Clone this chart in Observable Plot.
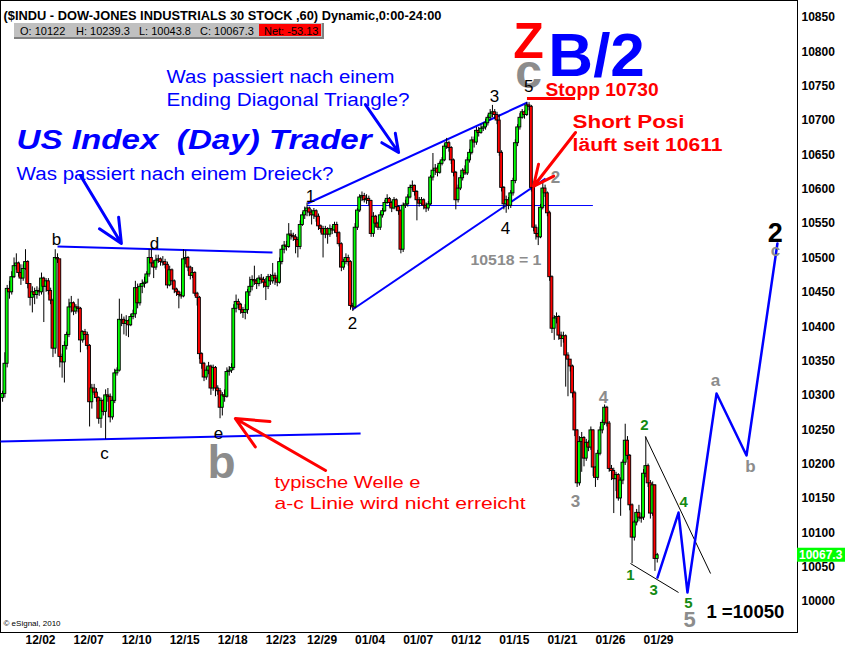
<!DOCTYPE html>
<html>
<head>
<meta charset="utf-8">
<script src="https://cdn.jsdelivr.net/npm/d3@7"></script>
<script src="https://cdn.jsdelivr.net/npm/@observablehq/plot@0.6"></script>
<style>
  html, body { margin: 0; padding: 0; background: #fff; }
  #chart { width: 845px; height: 652px; }
  svg text { white-space: pre; }
</style>
</head>
<body>
<div id="chart"></div>
<script>
// ---- Dow Jones Industrials, 60-minute bars, 30 Nov 2009 – 29 Jan 2010 ----
const days = ["11/30","12/01","12/02","12/03","12/04","12/07","12/08","12/09","12/10","12/11",
  "12/14","12/15","12/16","12/17","12/18","12/21","12/22","12/23","12/24","12/28","12/29","12/30","12/31",
  "01/04","01/05","01/06","01/07","01/08","01/11","01/12","01/13","01/14","01/15",
  "01/19","01/20","01/21","01/22","01/25","01/26","01/27","01/28","01/29"];
// hourly bars per session (first session only partly shown, 12/24 half day)
const barsPerDay = [3,7,7,7,7,7,7,7,7,7, 7,7,7,7,7,7,7,7,4,7,7,7,7, 7,7,7,7,7,7,7,7,7,7, 7,7,7,7,7,7,7,7,7];
const dateTicks = ["12/02","12/07","12/10","12/15","12/18","12/23","12/29","01/04","01/07","01/12","01/15","01/21","01/26","01/29"];
const priceTicks = [10000,10050,10100,10150,10200,10250,10300,10350,10400,10450,10500,10550,10600,10650,10700,10750,10800,10850];

const closes = [
  10302,10346,10455,10450,10472,10488,10492,10478,10470,10484,
  10494,10462,10442,10450,10446,10452,10450,10470,10458,10466,
  10452,10438,10368,10500,10498,10356,10348,10372,10388,10428,
  10434,10422,10428,10426,10380,10392,10388,10372,10290,10310,
  10304,10296,10266,10292,10276,10300,10298,10268,10292,10332,
  10336,10410,10410,10404,10408,10402,10414,10418,10456,10434,
  10458,10462,10464,10476,10500,10492,10486,10496,10498,10494,
  10494,10490,10460,10482,10466,10454,10450,10446,10444,10498,
  10500,10486,10474,10478,10448,10442,10360,10346,10326,10336,
  10342,10310,10340,10310,10306,10282,10300,10298,10334,10336,
  10340,10426,10436,10432,10424,10420,10424,10450,10458,10468,
  10466,10462,10470,10468,10464,10458,10472,10466,10474,10470,
  10464,10494,10512,10518,10516,10534,10532,10530,10526,10516,
  10548,10562,10568,10572,10566,10562,10568,10560,10546,10542,
  10534,10542,10534,10542,10540,10548,10536,10520,10486,10494,
  10500,10494,10430,10428,10544,10569,10588,10590,10584,10586,
  10583,10535,10560,10550,10544,10562,10568,10580,10586,10580,
  10572,10584,10574,10568,10512,10576,10578,10588,10602,10605,
  10596,10584,10579,10584,10576,10572,10578,10617,10627,10630,
  10624,10637,10642,10662,10667,10660,10642,10624,10584,10601,
  10616,10627,10623,10642,10653,10671,10668,10685,10682,10688,
  10690,10696,10704,10710,10712,10708,10700,10653,10602,10578,
  10584,10576,10594,10612,10667,10690,10704,10712,10708,10722,
  10720,10602,10544,10535,10530,10573,10601,10594,10565,10472,
  10397,10412,10414,10387,10382,10386,10358,10352,10342,10303,
  10249,10172,10232,10238,10208,10231,10224,10249,10195,10180,
  10215,10249,10260,10282,10259,10193,10190,10178,10184,10150,
  10176,10202,10234,10212,10140,10093,10115,10129,10122,10120.46,
  10186,10197,10172,10128,10169,10062,10067.33
];
const highs = [
  10306,10362,10460,10466,10480,10500,10506,10494,10490,10490,
  10512,10496,10462,10458,10456,10458,10456,10478,10472,10470,
  10470,10456,10440,10512,10506,10498,10360,10378,10392,10440,
  10444,10436,10432,10440,10428,10394,10396,10392,10374,10316,
  10316,10310,10298,10296,10294,10308,10310,10302,10298,10338,
  10340,10440,10418,10414,10416,10410,10418,10424,10466,10462,
  10462,10468,10472,10480,10512,10512,10496,10504,10504,10500,
  10502,10498,10494,10488,10484,10468,10456,10452,10450,10512,
  10510,10502,10488,10486,10480,10450,10444,10362,10348,10340,
  10348,10344,10344,10342,10314,10310,10304,10308,10340,10342,
  10346,10432,10446,10440,10434,10428,10432,10454,10472,10474,
  10488,10470,10474,10476,10472,10470,10476,10476,10492,10478,
  10474,10500,10518,10524,10524,10550,10540,10536,10534,10530,
  10554,10566,10574,10580,10574,10570,10572,10570,10564,10548,
  10546,10546,10544,10548,10546,10552,10552,10538,10522,10498,
  10506,10504,10496,10434,10550,10572,10592,10596,10594,10592,
  10590,10584,10566,10562,10552,10566,10572,10584,10592,10588,
  10582,10588,10586,10576,10570,10580,10584,10592,10606,10612,
  10606,10598,10588,10588,10586,10580,10582,10620,10652,10636,
  10634,10640,10646,10666,10674,10670,10662,10644,10626,10606,
  10620,10630,10634,10646,10658,10676,10676,10690,10690,10694,
  10696,10702,10708,10716,10722,10716,10712,10708,10656,10604,
  10590,10588,10598,10616,10672,10694,10710,10716,10714,10726,
  10726,10722,10604,10548,10544,10578,10612,10606,10596,10568,
  10474,10416,10420,10416,10392,10392,10388,10362,10352,10344,
  10306,10250,10240,10246,10240,10236,10234,10254,10250,10196,
  10220,10254,10264,10286,10284,10262,10198,10194,10188,10186,
  10180,10206,10258,10240,10214,10142,10118,10134,10140,10128,
  10192,10239.3,10200,10176,10174,10170,10070
];
const lows = [
  10290,10296,10340,10440,10446,10470,10482,10472,10460,10466,
  10482,10455,10430,10420,10432,10440,10444,10446,10406,10450,
  10446,10432,10355,10360,10492,10340,10325,10318,10366,10384,
  10420,10416,10418,10420,10362,10376,10380,10366,10254,10280,
  10300,10290,10258,10252,10270,10236,10290,10260,10264,10288,
  10328,10334,10400,10388,10386,10384,10400,10410,10412,10426,
  10430,10448,10456,10462,10472,10486,10470,10482,10492,10488,
  10488,10484,10455,10458,10460,10448,10444,10426,10440,10442,
  10490,10480,10468,10470,10444,10430,10352,10338,10320,10322,
  10330,10300,10306,10298,10300,10266,10270,10290,10296,10328,
  10332,10336,10420,10426,10418,10412,10410,10418,10444,10452,
  10460,10454,10458,10462,10456,10438,10454,10460,10462,10460,
  10458,10462,10490,10506,10510,10514,10526,10524,10506,10500,
  10512,10546,10556,10560,10560,10548,10556,10552,10540,10536,
  10500,10528,10520,10530,10534,10536,10530,10516,10480,10482,
  10490,10488,10424,10422,10426,10540,10566,10582,10580,10578,
  10576,10530,10530,10544,10540,10540,10558,10566,10578,10574,
  10566,10570,10568,10562,10506,10508,10572,10574,10586,10598,
  10590,10554,10574,10576,10570,10566,10568,10576,10612,10620,
  10618,10622,10634,10640,10658,10654,10636,10618,10570,10580,
  10598,10612,10620,10620,10638,10650,10660,10664,10676,10680,
  10684,10686,10692,10700,10704,10702,10694,10648,10596,10570,
  10565,10570,10572,10590,10608,10662,10686,10702,10702,10706,
  10714,10596,10538,10526,10518,10528,10570,10588,10560,10466,
  10390,10380,10404,10380,10370,10376,10312,10298,10334,10296,
  10240,10166,10168,10188,10196,10204,10218,10220,10182,10166,
  10176,10212,10244,10256,10254,10188,10176,10128,10160,10146,
  10124,10170,10198,10206,10132,10055,10088,10110,10116,10114,
  10118,10180,10166,10120,10124,10043.8,10056
];
// session opens that do not equal the prior bar's close
const sessionOpens = new Map([[0, 10296], [280, 10122]]);

// ---- Elliott wave annotations (bar index, price) ----
const blackLabels = [
  {i: 23.5, p: 10527, t: "b"}, {i: 66.4, p: 10521, t: "d"}, {i: 44.5, p: 10215, t: "c"}, {i: 94.3, p: 10244, t: "e"},
  {i: 134.5, p: 10589, t: "1"}, {i: 152.9, p: 10405, t: "2"}, {i: 214.9, p: 10735, t: "3"},
  {i: 219.7, p: 10543, t: "4"}
];
const greyLabels = [
  {i: 241.5, p: 10617, t: "2"}, {i: 262.5, p: 10297, t: "4"}, {i: 250.3, p: 10146, t: "3"},
  {i: 311.4, p: 10322, t: "a"}, {i: 326.7, p: 10197, t: "b"}, {i: 337.6, p: 10511, t: "c"}
];
const greenLabels = [
  {i: 274.3, p: 10038, t: "1"}, {i: 280.4, p: 10256, t: "2"}, {i: 284.4, p: 10016, t: "3"},
  {i: 297.5, p: 10144, t: "4"}, {i: 299.6, p: 9997, t: "5"}
];
const triangleLines = [
  {i1: 24, p1: 10516.7, i2: 117.9, p2: 10507.9},   // b – d
  {i1: -0.9, p1: 10232.9, i2: 156.4, p2: 10244.5}, // a – c
  {i1: 133.2, p1: 10579.3, i2: 229.3, p2: 10726.2}, // 1 – 3 – 5
  {i1: 152.9, p1: 10425, i2: 237.2, p2: 10615.6}    // 2 – 4
];
const waveOneLevel = {i1: 133.2, i2: 258.1, p: 10576.3};
const stopLevel = {i1: 229.3, i2: 250.3, p: 10732.1};
const wedgeLines = [
  {i1: 280.8, p1: 10240.2, i2: 309.3, p2: 10040.7},
  {i1: 274.3, p1: 10055.3, i2: 295.3, p2: 10013.1}
];
const projection = [
  {i: 286.1, p: 10034.9}, {i: 295.3, p: 10129.5}, {i: 299.2, p: 10013.1},
  {i: 311.9, p: 10302.7}, {i: 325.0, p: 10212.5}, {i: 338.5, p: 10521.0}
];
const blueArrows = [
  {i1: 34.0, p1: 10620.0, i2: 51.9, p2: 10521.0},
  {i1: 158.5, p1: 10723.3, i2: 173.0, p2: 10653.5}
];
const redArrows = [
  {i1: 250.3, p1: 10682.6, i2: 231.9, p2: 10604.0},
  {i1: 141.1, p1: 10190.7, i2: 101.7, p2: 10266.3}
];
const blueNotes = [
  {i: 71.6, p: 10762.6, t: "Was passiert nach einem"},
  {i: 71.6, p: 10729.2, t: "Ending Diagonal Triangle?"},
  {i: 6.1, p: 10621.5, t: "Was passiert nach einem Dreieck?"}
];
const redNotes = [
  {i: 118.8, p: 10173.2, t: "typische Welle e"},
  {i: 118.8, p: 10142.6, t: "a-c Linie wird nicht erreicht"}
];
const redBoldNotes = [
  {i: 237.2, p: 10743.7, t: "Stopp 10730"},
  {i: 249.0, p: 10697.1, t: "Short Posi"},
  {i: 249.0, p: 10663.7, t: "läuft seit 10611"}
];

// ---- build bars ----
const dayStart = new Map();
{
  let k = 0;
  days.forEach((d, j) => { dayStart.set(d, k); k += barsPerDay[j]; });
}
const bars = closes.map((c, i) => ({
  i,
  open: sessionOpens.has(i) ? sessionOpens.get(i) : closes[i - 1],
  high: highs[i], low: lows[i], close: c
}));
const lastDay = dayStart.get(days[days.length - 1]);
const dayBars = bars.slice(lastDay);
const dayO = dayBars[0].open;
const dayH = d3.max(dayBars, d => d.high);
const dayL = d3.min(dayBars, d => d.low);
const dayC = dayBars[dayBars.length - 1].close;
const dayNet = dayC - bars[lastDay - 1].close;

const font = "'Liberation Sans', Arial, sans-serif";
const xDomain = [-0.917, 347.27];
const yDomain = [9954.88, 10874.7];
const half = 0.62;

const chart = Plot.plot({
  width: 845, height: 652,
  marginLeft: 0, marginRight: 48, marginTop: 0, marginBottom: 20,
  x: {domain: xDomain, axis: null},
  y: {domain: yDomain, axis: null},
  style: {fontFamily: font, background: "#fff"},
  marks: [
    Plot.frame({stroke: "#000"}),
    // triangle and diagonal boundaries
    Plot.link(triangleLines, {x1: "i1", y1: "p1", x2: "i2", y2: "p2", stroke: "#0000ff", strokeWidth: 2}),
    Plot.ruleY([waveOneLevel], {y: "p", x1: "i1", x2: "i2", stroke: "#0000ff", strokeWidth: 1}),
    // candles
    Plot.ruleX(bars, {x: "i", y1: "low", y2: "high", stroke: "#000", strokeWidth: 1}),
    Plot.rect(bars, {
      x1: d => d.i - half, x2: d => d.i + half, y1: "open", y2: "close",
      fill: d => d.close >= d.open ? "#00ff00" : "#ff0000", stroke: "#000", strokeWidth: 0.9
    }),
    Plot.ruleY(bars.filter(d => Math.abs(d.close - d.open) < 1.5), {
      y: "close", x1: d => d.i - half, x2: d => d.i + half, stroke: "#000", strokeWidth: 1
    }),
    // stop level
    Plot.ruleY([stopLevel], {y: "p", x1: "i1", x2: "i2", stroke: "#ff0000", strokeWidth: 3}),
    // final wedge and projected path
    Plot.link(wedgeLines, {x1: "i1", y1: "p1", x2: "i2", y2: "p2", stroke: "#000", strokeWidth: 1}),
    Plot.line(projection, {x: "i", y: "p", stroke: "#0000ff", strokeWidth: 2.5}),
    // arrows
    Plot.arrow(blueArrows, {x1: "i1", y1: "p1", x2: "i2", y2: "p2", stroke: "#0000ff", strokeWidth: 3, headLength: 22, headAngle: 50}),
    Plot.arrow(redArrows, {x1: "i1", y1: "p1", x2: "i2", y2: "p2", stroke: "#ff0000", strokeWidth: 3, headLength: 22, headAngle: 50}),
    // price scale and dates
    Plot.text(priceTicks, {y: d => d, text: d => String(d), frameAnchor: "right", textAnchor: "start", dx: 4,
      fontSize: 12, fontWeight: "bold", fill: "#000"}),
    Plot.text(dateTicks, {x: d => dayStart.get(d), text: d => d, frameAnchor: "bottom", textAnchor: "start", dy: 11,
      fontSize: 12, fontWeight: "bold", fill: "#000"}),
    // wave labels
    Plot.text(blackLabels, {x: "i", y: "p", text: "t", fontSize: 17, fill: "#000"}),
    Plot.text(greyLabels, {x: "i", y: "p", text: "t", fontSize: 17, fontWeight: "bold", fill: "#8c8c8c"}),
    Plot.text(greenLabels, {x: "i", y: "p", text: "t", fontSize: 15, fontWeight: "bold", fill: "#138a13"}),
    Plot.text([{i: 300.1, p: 9973.8}], {x: "i", y: "p", text: () => "5", fontSize: 22, fontWeight: "bold", fill: "#8c8c8c"}),
    Plot.text([{i: 95.6, p: 10201}], {x: "i", y: "p", text: () => "b", fontSize: 46, fontWeight: "bold", fill: "#8c8c8c"}),
    Plot.text([{i: 337.6, p: 10535.6}], {x: "i", y: "p", text: () => "2", fontSize: 27, fontWeight: "bold", fill: "#000"}),
    Plot.text([{i: 219.9, p: 10496.3}], {x: "i", y: "p", text: () => "10518 = 1", fontSize: 15, fontWeight: "bold", fill: "#8c8c8c"}),
    Plot.text([{i: 324.5, p: 9984}], {x: "i", y: "p", text: () => "1 =10050", fontSize: 18, fontWeight: "bold", fill: "#000"}),
    // "Z B/2" marker with the wave c / 5 top
    Plot.text([{i: 229.8, p: 10770}], {x: "i", y: "p", text: () => "c", fontSize: 48, fontWeight: "bold", fill: "#8c8c8c"}),
    Plot.text([{i: 229.8, p: 10750}], {x: "i", y: "p", text: () => "5", fontSize: 17, fill: "#000"}),
    Plot.text([{i: 229.8, p: 10815}], {x: "i", y: "p", text: () => "Z", fontSize: 50, fontWeight: "bold", fill: "#ff0000"}),
    Plot.text([{i: 259.5, p: 10793}], {x: "i", y: "p", text: () => "B/2", fontSize: 62, fontWeight: "bold", fill: "#0000ff"}),
    // commentary
    Plot.text(blueNotes, {x: "i", y: "p", text: "t", textAnchor: "start", fontSize: 18, fill: "#0000ff"}),
    Plot.text([{i: 6.1, p: 10671}], {x: "i", y: "p", text: () => "US Index  (Day) Trader", textAnchor: "start",
      fontSize: 27, fontWeight: "bold", fontStyle: "italic", fill: "#0000ff"}),
    Plot.text(redNotes, {x: "i", y: "p", text: "t", textAnchor: "start", fontSize: 17, fill: "#ff0000"}),
    Plot.text(redBoldNotes, {x: "i", y: "p", text: "t", textAnchor: "start", fontSize: 18, fontWeight: "bold", fill: "#ff0000"}),
    // title and copyright
    Plot.text(["($INDU - DOW-JONES INDUSTRIALS 30 STOCK ,60) Dynamic,0:00-24:00"], {text: d => d, frameAnchor: "top-left",
      textAnchor: "start", dx: 3, dy: 10, fontSize: 13, fontWeight: "bold", fill: "#000"}),
    Plot.text(["© eSignal, 2010"], {text: d => d, frameAnchor: "bottom-left", textAnchor: "start", dx: 3, dy: -7,
      fontSize: 8, fill: "#000"})
  ]
});

// stretch a few captions to their drawn lengths
const fitWidths = new Map([
  ["($INDU - DOW-JONES INDUSTRIALS 30 STOCK ,60) Dynamic,0:00-24:00", 438],
  ["US Index  (Day) Trader", 355],
  ["Was passiert nach einem", 228],
  ["Ending Diagonal Triangle?", 243],
  ["Was passiert nach einem Dreieck?", 317],
  ["typische Welle e", 146],
  ["a-c Linie wird nicht erreicht", 251],
  ["Stopp 10730", 113],
  ["Short Posi", 112],
  ["läuft seit 10611", 150],
  ["10518 = 1", 71],
  ["1 =10050", 78]
]);
d3.select(chart).selectAll("text").each(function () {
  const w = fitWidths.get(this.textContent);
  if (w) d3.select(this).attr("textLength", w).attr("lengthAdjust", "spacingAndGlyphs");
});

// quote strip and last-price flag
const yPix = d3.scaleLinear().domain(yDomain).range([632, 0]);
const fmt = d3.format(".1~f");
const strip = d3.select(chart).append("g").attr("font-family", font).attr("font-size", 11)
  .attr("text-anchor", "start");
strip.append("rect").attr("x", 14).attr("y", 23).attr("width", 310).attr("height", 16).attr("fill", "#808080");
strip.append("rect").attr("x", 14).attr("y", 23).attr("width", 308).attr("height", 14).attr("fill", "#c0c0c0");
strip.append("rect").attr("x", 259).attr("y", 24).attr("width", 62).attr("height", 12).attr("fill", "#ff0000");
const quote = [
  {x: 20, t: `O: ${fmt(dayO)}`}, {x: 76, t: `H: ${fmt(dayH)}`}, {x: 139, t: `L: ${fmt(dayL)}`},
  {x: 200, t: `C: ${fmt(dayC)}`}, {x: 264, t: `Net: ${dayNet.toFixed(2)}`}
];
strip.selectAll("text.q").data(quote).join("text").attr("class", "q")
  .attr("x", d => d.x).attr("y", 34.5).attr("fill", "#000").text(d => d.t);

const flagY = yPix(dayC);
const flag = d3.select(chart).append("g").attr("font-family", font).attr("text-anchor", "start");
flag.append("rect").attr("x", 797).attr("y", flagY - 7).attr("width", 48).attr("height", 14).attr("fill", "#00ff00");
flag.append("text").attr("x", 799).attr("y", flagY + 4.5).attr("font-size", 12).attr("font-weight", "bold")
  .attr("fill", "#fff").text(fmt(dayC));

document.getElementById("chart").appendChild(chart);
</script>
</body>
</html>
